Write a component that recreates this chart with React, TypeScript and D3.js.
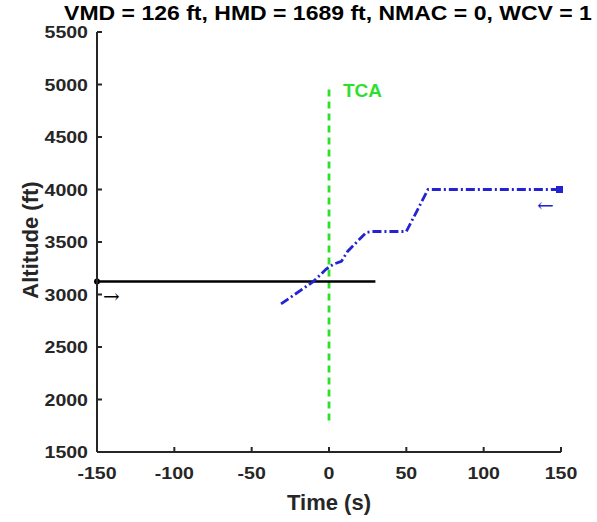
import React from "react";
import * as d3 from "d3";

const timeTicks = [-150, -100, -50, 0, 50, 100, 150];
const altTicks = [1500, 2000, 2500, 3000, 3500, 4000, 4500, 5000, 5500];

const ownTime = [-31, -10, -2, 3, 8, 12, 24, 28, 50, 64, 150];
const ownAlt = [2910, 3125, 3240, 3290, 3315, 3410, 3590, 3600, 3600, 4000, 4000];

const intruderTime = [-150, 30];
const intruderAlt = [3125, 3125];

const tcaTime = [0, 0];
const tcaAlt = [1800, 5000];

const titleText = "VMD = 126 ft, HMD = 1689 ft, NMAC = 0, WCV = 1";

const W = 597;
const H = 522;
const L = 97, R = 561, T = 32, B = 452;

export default function App() {
  const x = d3.scaleLinear().domain([-150, 150]).range([L, R]);
  const y = d3.scaleLinear().domain([1500, 5500]).range([B, T]);
  const line = d3.line<[number, number]>().x(d => x(d[0])).y(d => y(d[1]));

  const ownPts = ownTime.map((t, i) => [t, ownAlt[i]] as [number, number]);
  const intPts = intruderTime.map((t, i) => [t, intruderAlt[i]] as [number, number]);
  const tcaPts = tcaTime.map((t, i) => [t, tcaAlt[i]] as [number, number]);

  const axisColor = "#262626";
  const font = "'Liberation Sans', Arial, sans-serif";
  const lastOwn = ownPts[ownPts.length - 1];
  const firstInt = intPts[0];
  const sx = 1.15;

  return (
    <svg width={W} height={H} style={{ position: "absolute", left: 0, top: 0, background: "#fff" }} fontFamily={font}>
      <rect width={W} height={H} fill="#fff" />
      <text transform={`translate(${(L + R) / 2 - 1},20) scale(${sx},1)`} textAnchor="middle" fontSize={20} fontWeight="bold" fill="#000">{titleText}</text>

      {/* data */}
      <path d={line(tcaPts) || ""} fill="none" stroke="#2ee02e" strokeWidth={2.8} strokeDasharray="7,5" />
      <text x={x(0) + 14} y={y(5000) + 12} fontSize={19} fontWeight="bold" fill="#2ee02e">TCA</text>

      <path d={line(intPts) || ""} fill="none" stroke="#000" strokeWidth={2.5} />
      <circle cx={x(firstInt[0])} cy={y(firstInt[1])} r={3} fill="#000" />
      <text x={x(firstInt[0]) + 6} y={y(firstInt[1]) + 22} fontSize={20} fill="#000" fontFamily="'DejaVu Serif', serif">→</text>

      <path d={line(ownPts) || ""} fill="none" stroke="#2323d2" strokeWidth={2.8} strokeDasharray="9,3,2,3" />
      <rect x={x(lastOwn[0]) - 5} y={y(lastOwn[1]) - 3.5} width={7} height={7} fill="#2323d2" />
      <text x={x(lastOwn[0]) - 24} y={y(lastOwn[1]) + 22} fontSize={20} fill="#2323d2" fontFamily="'DejaVu Serif', serif">←</text>

      {/* axes */}
      <line x1={L} y1={B} x2={R} y2={B} stroke={axisColor} strokeWidth={2} />
      <line x1={L} y1={B} x2={L} y2={T} stroke={axisColor} strokeWidth={2} />
      {timeTicks.map(t => (
        <g key={"xt" + t}>
          <line x1={x(t)} x2={x(t)} y1={B} y2={B - 5} stroke={axisColor} strokeWidth={2} />
          <text transform={`translate(${x(t)},479) scale(${sx},1)`} textAnchor="middle" fontSize={17} fontWeight="bold" fill={axisColor}>{t}</text>
        </g>
      ))}
      {altTicks.map(a => (
        <g key={"yt" + a}>
          <line x1={L} x2={L + 5} y1={y(a)} y2={y(a)} stroke={axisColor} strokeWidth={2} />
          <text transform={`translate(${L - 9},${y(a) + 6}) scale(${sx},1)`} textAnchor="end" fontSize={17} fontWeight="bold" fill={axisColor}>{a}</text>
        </g>
      ))}
      <text x={(L + R) / 2} y={510} textAnchor="middle" fontSize={22} fontWeight="bold" fill={axisColor}>Time (s)</text>
      <text transform={`translate(38,240) rotate(-90)`} textAnchor="middle" fontSize={22} fontWeight="bold" fill={axisColor}>Altitude (ft)</text>
    </svg>
  );
}
